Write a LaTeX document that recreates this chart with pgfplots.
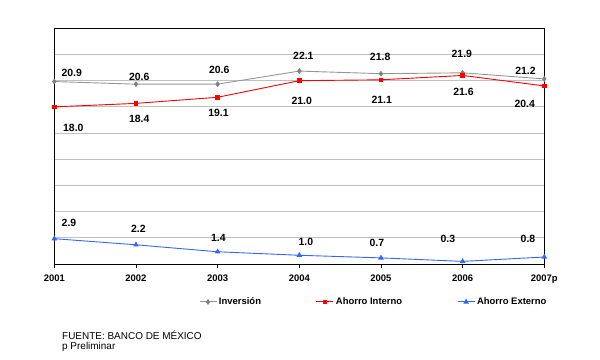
\documentclass[border=0pt]{standalone}
\usepackage{pgfplots}
\pgfplotsset{compat=1.18}
\usepackage{fontspec}
\setmainfont{Liberation Sans}
\definecolor{grisl}{RGB}{150,150,150}
\definecolor{grism}{RGB}{128,128,128}
\definecolor{azul}{RGB}{51,102,255}
\definecolor{gridc}{RGB}{192,192,192}
\begin{document}
\begin{tikzpicture}
\useasboundingbox (0,0) rectangle (600bp,360bp);
\begin{axis}[
  at={(54.3bp,96bp)}, anchor=south west,
  scale only axis, width=490bp, height=235.7bp,
  xmin=0, xmax=6, ymin=0, ymax=27,
  xtick={0,1,2,3,4,5,6},
  xticklabels={2001,2002,2003,2004,2005,2006,2007p},
  xtick pos=bottom, xtick align=outside,
  major tick length=4bp,
  ytick={0,3,...,27}, yticklabels={}, ytick style={draw=none},
  ymajorgrids, xmajorgrids=false, major grid style={gridc, line width=0.8bp},
  axis line style={black, line width=0.8bp},
  x tick style={black, line width=0.8bp},
  xticklabel style={font=\bfseries\fontsize{9.5}{11}\selectfont, inner sep=2bp, yshift=-5bp},
  clip=false,
  every node near coord/.append style={anchor=center, inner sep=0pt, font=\bfseries\fontsize{10.5}{12}\selectfont, text=black},
  legend columns=3,
  legend style={at={(0.652,-0.161)}, anchor=center, draw=none, fill=none,
    font=\bfseries\fontsize{9.5}{11}\selectfont,
    /tikz/every even column/.append style={column sep=53bp}},
]
\addplot[grisl, line width=0.9bp, mark=diamond*, mark size=2.2bp, mark options={grism, fill=grism}] coordinates {
(0,20.9) (1,20.6) (2,20.6) (3,22.1) (4,21.8) (5,21.9) (6,21.2)};
\addlegendentry{Inversión}
\addplot[red, line width=0.9bp, mark=square*, mark size=1.8bp, mark options={red, fill=red}] coordinates {
(0,18.0) (1,18.4) (2,19.1) (3,21.0) (4,21.1) (5,21.6) (6,20.4)};
\addlegendentry{Ahorro Interno}
\addplot[azul, line width=0.9bp, mark=triangle*, mark size=2.4bp, mark options={azul, fill=azul}] coordinates {
(0,2.9) (1,2.2) (2,1.4) (3,1.0) (4,0.7) (5,0.3) (6,0.8)};
\addlegendentry{Ahorro Externo}
% data labels
\addplot[only marks, mark=none, nodes near coords, point meta=explicit symbolic, forget plot]
table[meta=lab] {
x y lab
0.213 21.90 20.9
1.04 21.41 20.6
2.02 22.29 20.6
3.05 23.80 22.1
3.99 23.69 21.8
4.99 24.11 21.9
5.77 22.10 21.2
0.233 15.64 18.0
1.04 16.66 18.4
2.01 17.28 19.1
3.03 18.74 21.0
4.01 18.76 21.1
5.01 19.70 21.6
5.76 18.30 20.4
0.18 4.75 2.9
1.03 4.07 2.2
2.01 3.04 1.4
3.08 2.54 1.0
3.95 2.36 0.7
4.82 2.93 0.3
5.80 2.93 0.8
};
\end{axis}
\node[anchor=west, inner sep=0pt, font=\fontsize{10}{12}\selectfont] at (62bp,25bp) {FUENTE: BANCO DE MÉXICO};
\node[anchor=west, inner sep=0pt, font=\fontsize{10}{12}\selectfont] at (62bp,13bp) {p Preliminar};
\end{tikzpicture}
\end{document}
